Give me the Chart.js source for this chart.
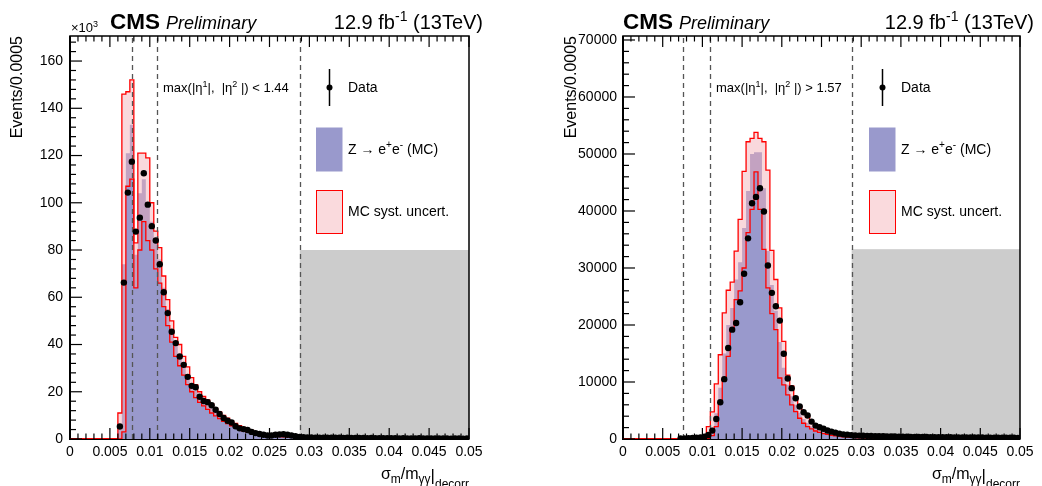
<!DOCTYPE html>
<html>
<head>
<meta charset="utf-8">
<script src="https://cdn.jsdelivr.net/npm/chart.js@4.4.0/dist/chart.umd.min.js"></script>
<style>
  html, body { margin: 0; padding: 0; background: #fff; }
  #wrap { position: relative; width: 1042px; height: 486px; overflow: hidden; }
  canvas { position: absolute; top: 0; }
</style>
</head>
<body>
<div id="wrap">
  <canvas id="eb" width="521" height="486" style="left:0"></canvas>
  <canvas id="ee" width="521" height="486" style="left:521px"></canvas>
</div>
<script>
const FF = '"Liberation Sans", Arial, Helvetica, sans-serif';
const BIN_W = 0.0005;
const N_BINS = 100;

const MC_FILL = '#9999cc';
const BAND_FILL = 'rgba(242,173,180,0.47)';
const BAND_LINE = '#ff0000';

// tick labels
const xTicks = [0, 0.005, 0.01, 0.015, 0.02, 0.025, 0.03, 0.035, 0.04, 0.045, 0.05];
const ebYTicks = [0, 20, 40, 60, 80, 100, 120, 140, 160];
const eeYTicks = [0, 10000, 20000, 30000, 40000, 50000, 60000, 70000];

// --- barrel: max(|eta1|,|eta2|) < 1.44, events in units of 10^3 ---
const ebData = [
  null, null, null, null, null, null, null, null, null, null,
  null, null, 5.3, 66.2, 104.3, 117.4, 87.8, 93.7, 112.5, 99.2,
  90.1, 84.0, 74.0, 62.1, 53.3, 45.4, 40.6, 34.9, 31.4, 26.3,
  22.5, 21.9, 17.9, 16.1, 15.6, 14.3, 12.4, 10.6, 8.9, 7.7,
  7.0, 5.4, 4.5, 4.2, 3.8, 3.0, 2.5, 2.1, 1.8, 1.5,
  1.5, 1.8, 1.9, 2.0, 1.8, 1.5, 1.2, 0.9, 0.8, 0.7,
  0.7, 0.6, 0.6, 0.6, 0.5, 0.5, 0.5, 0.5, 0.4, 0.5,
  0.4, 0.4, 0.4, 0.4, 0.3, 0.4, 0.3, 0.3, 0.3, 0.3,
  0.3, 0.3, 0.2, 0.3, 0.2, 0.2, 0.2, 0.3, 0.2, 0.2,
  0.2, 0.2, 0.2, 0.2, 0.2, 0.1, 0.2, 0.2, 0.1, 0.2
];
const ebMc = [
  0, 0, 0, 0, 0, 0, 0, 0, 0, 0,
  0, 0, 4, 74, 121, 133, 78, 104, 110, 100,
  92, 84, 76, 64, 55, 46, 40, 35, 30.5, 26,
  22.5, 20.5, 18, 16, 14.5, 13, 11.5, 10, 8.7, 7.5,
  6.5, 5.5, 4.7, 4.0, 3.4, 2.9, 2.5, 2.1, 1.8, 1.6,
  1.4, 1.3, 1.2, 1.1, 1.0, 0.9, 0.8, 0.7, 0.6, 0.55,
  0.5, 0.45, 0.4, 0.38, 0.35, 0.32, 0.3, 0.28, 0.26, 0.24,
  0.22, 0.2, 0.19, 0.18, 0.17, 0.16, 0.15, 0.14, 0.13, 0.12,
  0.12, 0.11, 0.1, 0.1, 0.09, 0.09, 0.08, 0.08, 0.07, 0.07,
  0.06, 0.06, 0.06, 0.05, 0.05, 0.05, 0.04, 0.04, 0.04, 0.04
];
const ebLo = [
  0, 0, 0, 0, 0, 0, 0, 0, 0, 0,
  0, 0, 0, 3, 107, 110, 64, 80, 92, 84,
  80, 72, 66, 56, 48, 41, 35, 31, 27, 23,
  20, 17.5, 15.5, 14, 12.5, 11, 9.8, 8.6, 7.5, 6.5,
  5.6, 4.8, 4.1, 3.5, 3.0, 2.6, 2.2, 1.9, 1.6, 1.4,
  1.2, 1.1, 1.0, 0.9, 0.8, 0.7, 0.6, 0.55, 0.5, 0.45,
  0.42, 0.38, 0.34, 0.32, 0.3, 0.27, 0.25, 0.23, 0.22, 0.2,
  0.18, 0.17, 0.16, 0.15, 0.14, 0.13, 0.12, 0.11, 0.1, 0.1,
  0.1, 0.09, 0.08, 0.08, 0.07, 0.07, 0.06, 0.06, 0.05, 0.05,
  0.05, 0.05, 0.05, 0.04, 0.04, 0.04, 0.03, 0.03, 0.03, 0.03
];
const ebHi = [
  0, 0, 0, 0, 0, 0, 0, 0, 0, 0,
  0, 0, 11, 146, 147, 152, 83, 121, 121, 119,
  100, 88, 81, 69, 59, 50, 43, 40, 35, 30.5,
  26, 23, 20, 18, 16.5, 15, 13, 11.5, 10, 8.8,
  7.7, 6.6, 5.7, 4.9, 4.2, 3.6, 3.1, 2.6, 2.2, 1.9,
  1.7, 1.5, 1.4, 1.25, 1.1, 1.0, 0.9, 0.8, 0.7, 0.65,
  0.6, 0.52, 0.47, 0.44, 0.4, 0.37, 0.35, 0.32, 0.3, 0.28,
  0.26, 0.24, 0.22, 0.21, 0.2, 0.19, 0.17, 0.16, 0.15, 0.14,
  0.14, 0.13, 0.12, 0.12, 0.11, 0.1, 0.1, 0.09, 0.08, 0.08,
  0.07, 0.07, 0.07, 0.06, 0.06, 0.06, 0.05, 0.05, 0.05, 0.05
];

// --- endcap: max(|eta1|,|eta2|) > 1.57, events ---
const eeData = [
  null, null, null, null, null, null, null, null, null, null,
  null, null, null, null, 80, 110, 150, 170, 220, 280,
  400, 700, 1470, 3520, 6450, 10500, 15960, 19180, 20360, 24000,
  28980, 35200, 41360, 42470, 44000, 39900, 30450, 25640, 23290, 20770,
  14960, 10610, 8920, 7160, 5690, 4690, 4110, 3050, 2350, 2050,
  1800, 1500, 1290, 1110, 940, 820, 760, 680, 620, 600,
  560, 540, 520, 500, 480, 470, 450, 440, 430, 420,
  400, 390, 380, 370, 360, 350, 340, 330, 330, 320,
  310, 300, 300, 290, 280, 280, 270, 260, 260, 250,
  250, 240, 240, 230, 230, 220, 220, 210, 210, 200
];
const eeMc = [
  0, 0, 0, 0, 0, 0, 0, 0, 0, 0,
  0, 0, 0, 0, 0, 0, 0, 0, 0, 0,
  150, 700, 2000, 4500, 9000, 15000, 20000, 23000, 28000, 31000,
  37000, 43500, 50000, 50300, 50300, 44000, 33000, 27000, 22500, 17000,
  12500, 9500, 7500, 6000, 4600, 3500, 2800, 2200, 1800, 1500,
  1250, 1050, 880, 740, 620, 520, 440, 370, 310, 270,
  240, 210, 190, 170, 150, 140, 130, 120, 110, 100,
  95, 90, 85, 80, 75, 70, 65, 60, 58, 55,
  52, 50, 48, 45, 43, 40, 38, 36, 34, 32,
  30, 28, 27, 26, 25, 24, 23, 22, 21, 20
];
const eeLo = [
  0, 0, 0, 0, 0, 0, 0, 0, 0, 0,
  0, 0, 0, 0, 0, 0, 0, 0, 0, 0,
  0, 100, 600, 2170, 6280, 10460, 14480, 19180, 24460, 26000,
  30000, 36200, 40300, 46870, 40300, 33260, 26500, 22000, 19180, 10700,
  9500, 7750, 5980, 4810, 3640, 2760, 2170, 1760, 1400, 1150,
  950, 800, 650, 540, 450, 380, 320, 270, 230, 200,
  180, 160, 145, 130, 115, 105, 100, 90, 85, 78,
  72, 68, 64, 60, 56, 52, 48, 45, 43, 41,
  39, 37, 35, 33, 32, 30, 28, 27, 25, 24,
  22, 21, 20, 19, 18, 17, 17, 16, 15, 15
];
const eeHi = [
  0, 0, 0, 0, 0, 0, 0, 0, 0, 0,
  0, 0, 0, 0, 0, 0, 0, 0, 0, 0,
  500, 2170, 4750, 9680, 14780, 22120, 26100, 27510, 32970, 38540,
  46940, 52150, 52740, 53800, 52740, 52150, 47170, 33090, 27980, 23000,
  17130, 11200, 9300, 7400, 5800, 4700, 4000, 3000, 2400, 2000,
  1650, 1380, 1160, 970, 820, 690, 580, 490, 410, 360,
  320, 280, 250, 225, 200, 185, 170, 155, 145, 135,
  125, 118, 110, 104, 98, 92, 86, 80, 77, 73,
  69, 66, 63, 60, 57, 53, 50, 48, 45, 43,
  40, 38, 36, 35, 33, 32, 31, 29, 28, 27
];

// cut lines; the grey box covers the region above the last one
const ebCuts = [0.0078, 0.0109, 0.0288];
const eeCuts = [0.0076, 0.0110, 0.0288];

function font(size, style) {
  return (style ? style + ' ' : '') + size + 'px ' + FF;
}

// draw a line of text made of pieces with different size / offset
function drawRich(ctx, x, y, segs, align) {
  let w = 0;
  segs.forEach(s => { ctx.font = s.f; s.w = ctx.measureText(s.t).width; w += s.w; });
  let cx = align === 'right' ? x - w : x;
  ctx.textAlign = 'left';
  ctx.textBaseline = 'alphabetic';
  ctx.fillStyle = '#000';
  segs.forEach(s => { ctx.font = s.f; ctx.fillText(s.t, cx, y + (s.dy || 0)); cx += s.w; });
}

function makePanel(canvasId, p) {
  const edges = [];
  for (let i = 0; i <= N_BINS; i++) edges.push(i * BIN_W);
  const hist = vals => vals.map((v, i) => ({ x: edges[i], y: v }))
    .concat([{ x: edges[N_BINS], y: vals[N_BINS - 1] }]);
  const pts = vals => vals.map((v, i) => (v == null ? null : { x: edges[i] + BIN_W / 2, y: v }))
    .filter(Boolean);

  const decor = {
    id: 'decor' + canvasId,
    beforeDatasetsDraw(chart) {
      const { ctx, chartArea: a, scales: { x, y } } = chart;
      ctx.save();
      // grey excluded region
      ctx.fillStyle = '#cccccc';
      const gx = x.getPixelForValue(p.cuts[2]);
      const gy = y.getPixelForValue(p.greyTop);
      ctx.fillRect(gx, gy, a.right - gx, a.bottom - gy);
      // frame (histograms are drawn over it, like ROOT does)
      ctx.strokeStyle = '#000';
      ctx.lineWidth = 1.5;
      ctx.strokeRect(a.left, a.top, a.right - a.left, a.bottom - a.top);
      ctx.lineWidth = 2;
      ctx.beginPath();
      ctx.moveTo(a.left, a.top);
      ctx.lineTo(a.left, a.bottom);
      ctx.lineTo(a.right, a.bottom);
      ctx.stroke();
      ctx.restore();
    },
    beforeDatasetDraw(chart, args) {
      if (args.index !== 0) return;
      const { ctx, chartArea: a, scales: { x } } = chart;
      ctx.save();
      ctx.strokeStyle = '#555';
      ctx.lineWidth = 1.3;
      ctx.setLineDash([5, 4]);
      p.cuts.forEach(c => {
        const px = Math.round(x.getPixelForValue(c)) + 0.5;
        ctx.beginPath();
        ctx.moveTo(px, a.bottom);
        ctx.lineTo(px, a.top);
        ctx.stroke();
      });
      ctx.restore();
    },
    afterDraw(chart) {
      const { ctx, chartArea: a, scales: { x, y } } = chart;
      ctx.save();
      ctx.strokeStyle = '#000';

      // inward ticks, 5 minor divisions per major
      ctx.lineWidth = 1.2;
      const xStep = x.ticks[1].value - x.ticks[0].value;
      for (let k = 0; k * xStep / 5 <= x.max + 1e-9; k++) {
        const px = x.getPixelForValue(k * xStep / 5);
        const len = k % 5 === 0 ? 11 : 5.5;
        ctx.beginPath();
        ctx.moveTo(px, a.bottom); ctx.lineTo(px, a.bottom - len);
        ctx.moveTo(px, a.top); ctx.lineTo(px, a.top + len);
        ctx.stroke();
      }
      const yStep = y.ticks[1].value - y.ticks[0].value;
      for (let k = 0; k * yStep / 5 <= y.max + 1e-9; k++) {
        const py = y.getPixelForValue(k * yStep / 5);
        const len = k % 5 === 0 ? 12 : 6;
        ctx.beginPath();
        ctx.moveTo(a.left, py); ctx.lineTo(a.left + len, py);
        ctx.stroke();
      }

      // header
      drawRich(ctx, p.cmsX, 28.5, [
        { t: 'CMS', f: font(22.5, 'bold') },
        { t: '  ', f: font(11) },
        { t: 'Preliminary', f: font(18, 'italic') }
      ]);
      drawRich(ctx, a.right + 14, 28.5, [
        { t: '12.9 fb', f: font(20) },
        { t: '-1', f: font(14), dy: -8 },
        { t: ' (13TeV)', f: font(20) }
      ], 'right');
      if (p.exponent) {
        drawRich(ctx, a.left + 1, 32, [
          { t: '\u00d710', f: font(13) },
          { t: '3', f: font(9), dy: -5 }
        ]);
      }

      // category label
      drawRich(ctx, a.left + 93, 92, [
        { t: 'max(|', f: font(13) },
        { t: '\u03b7', f: font(13) },
        { t: '1', f: font(9), dy: -5 },
        { t: '|,  |', f: font(13) },
        { t: '\u03b7', f: font(13) },
        { t: '2', f: font(9), dy: -5 },
        { t: ' |) ' + p.catText, f: font(13) }
      ]);

      // legend
      const lx = a.left;
      ctx.strokeStyle = '#000';
      ctx.lineWidth = 1.5;
      ctx.beginPath();
      ctx.moveTo(lx + 259.5, 69); ctx.lineTo(lx + 259.5, 106);
      ctx.stroke();
      ctx.fillStyle = '#000';
      ctx.beginPath();
      ctx.arc(lx + 259.5, 87.5, 3, 0, Math.PI * 2);
      ctx.fill();
      drawRich(ctx, lx + 278, 92, [{ t: 'Data', f: font(14) }]);

      ctx.fillStyle = MC_FILL;
      ctx.fillRect(lx + 246, 127.5, 26.5, 44);
      drawRich(ctx, lx + 278, 153.5, [
        { t: 'Z \u2192 e', f: font(14) },
        { t: '+', f: font(10), dy: -6 },
        { t: 'e', f: font(14) },
        { t: '-', f: font(10), dy: -6 },
        { t: ' (MC)', f: font(14) }
      ]);

      ctx.fillStyle = '#fadadd';
      ctx.fillRect(lx + 246, 190, 26.5, 43.5);
      ctx.strokeStyle = BAND_LINE;
      ctx.lineWidth = 1;
      ctx.strokeRect(lx + 246.5, 190.5, 26, 43);
      drawRich(ctx, lx + 278, 216, [{ t: 'MC syst. uncert.', f: font(14) }]);

      // axis titles
      drawRich(ctx, a.right, 479, [
        { t: '\u03c3', f: font(16) },
        { t: 'm', f: font(12), dy: 4 },
        { t: '/m', f: font(16) },
        { t: '\u03b3\u03b3', f: font(12), dy: 4 },
        { t: '|', f: font(17), dy: 2 },
        { t: 'decorr', f: font(12), dy: 9 }
      ], 'right');

      ctx.save();
      ctx.translate(p.yTitleX, a.top);
      ctx.rotate(-Math.PI / 2);
      ctx.font = font(16);
      ctx.fillStyle = '#000';
      ctx.textAlign = 'right';
      ctx.textBaseline = 'alphabetic';
      ctx.fillText('Events/0.0005', 0, 0);
      ctx.restore();

      ctx.restore();
    }
  };

  return new Chart(document.getElementById(canvasId), {
    type: 'line',
    data: {
      datasets: [
        {
          label: 'Data', data: pts(p.data), showLine: false,
          pointRadius: 3.2, pointBackgroundColor: '#000', pointBorderWidth: 0, order: 0
        },
        {
          label: 'syst low', data: hist(p.lo), stepped: true, borderColor: BAND_LINE,
          borderWidth: 1.3, pointRadius: 0, fill: false, order: 1
        },
        {
          label: 'syst high', data: hist(p.hi), stepped: true, borderColor: BAND_LINE,
          borderWidth: 1.3, pointRadius: 0, fill: 1, backgroundColor: BAND_FILL, order: 2
        },
        {
          label: 'Z to ee MC', data: hist(p.mc), stepped: true, borderColor: 'rgba(0,0,0,0)',
          borderWidth: 0, pointRadius: 0, fill: 'origin', backgroundColor: MC_FILL, order: 3
        }
      ]
    },
    options: {
      responsive: false,
      animation: false,
      devicePixelRatio: 1,
      layout: { padding: { left: 0, right: p.padRight, top: 36, bottom: 0 } },
      plugins: { legend: { display: false }, tooltip: { enabled: false } },
      scales: {
        x: {
          type: 'linear', min: 0, max: 0.05,
          grid: { display: false, drawTicks: false },
          border: { display: false },
          afterBuildTicks: s => { s.ticks = xTicks.map(v => ({ value: v })); },
          ticks: {
            autoSkip: false, maxRotation: 0, minRotation: 0,
            padding: 5, color: '#000',
            font: { family: FF, size: 14 },
            callback: v => String(+v.toFixed(3))
          },
          afterFit: s => { s.height = 47; }
        },
        y: {
          type: 'linear', min: 0, max: p.yMax,
          grid: { display: false, drawTicks: false },
          border: { display: false },
          afterBuildTicks: s => { s.ticks = p.yTicks.map(v => ({ value: v })); },
          ticks: {
            autoSkip: false, padding: p.yPad, color: '#000',
            font: { family: FF, size: 14 },
            callback: v => String(Math.round(v))
          },
          afterFit: s => { s.width = p.frameLeft; }
        }
      }
    },
    plugins: [decor]
  });
}

makePanel('eb', {
  data: ebData, mc: ebMc, lo: ebLo, hi: ebHi, cuts: ebCuts, greyTop: 80,
  yMax: 170.6, yTicks: ebYTicks, yPad: 7, frameLeft: 70, padRight: 52,
  cmsX: 110, exponent: true, catText: '< 1.44', yTitleX: 22
});
makePanel('ee', {
  data: eeData, mc: eeMc, lo: eeLo, hi: eeHi, cuts: eeCuts, greyTop: 33300,
  yMax: 70700, yTicks: eeYTicks, yPad: 6, frameLeft: 102, padRight: 22,
  cmsX: 102, exponent: false, catText: '> 1.57', yTitleX: 55
});
</script>
</body>
</html>
